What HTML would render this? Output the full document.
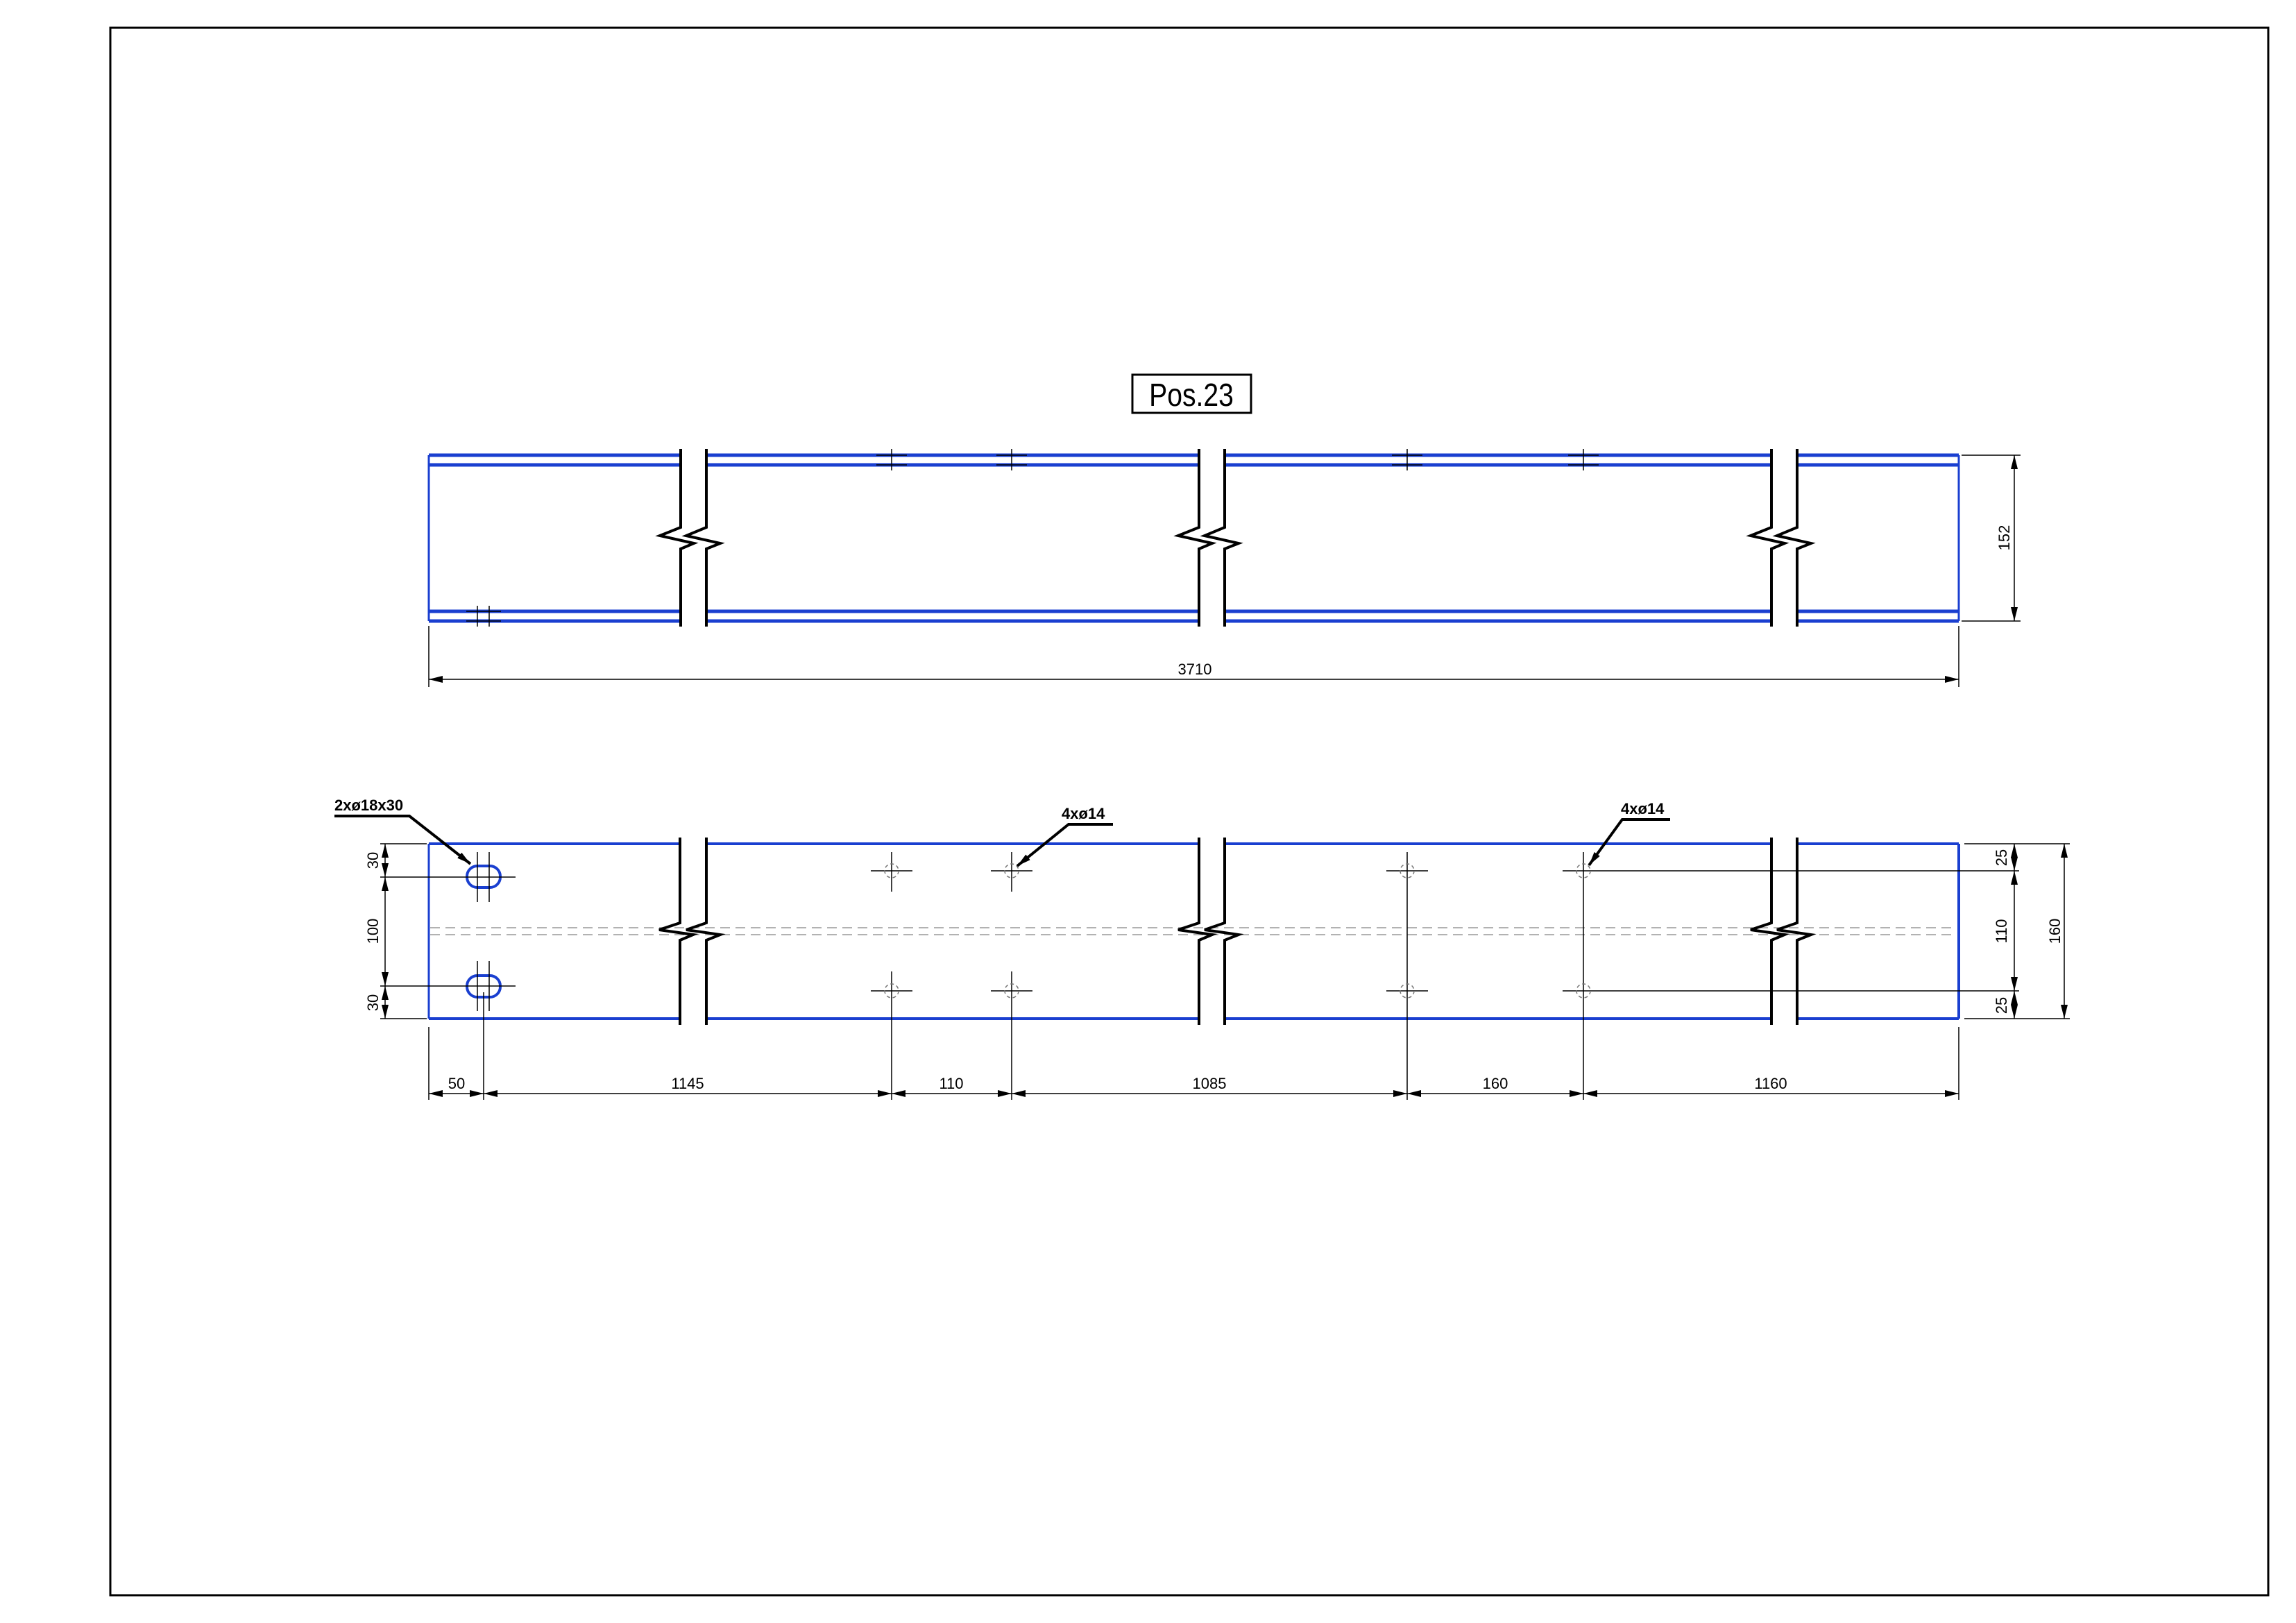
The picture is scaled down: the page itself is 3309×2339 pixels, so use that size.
<!DOCTYPE html>
<html><head><meta charset="utf-8"><style>
html,body{margin:0;padding:0;background:#fff;}
svg{display:block;}
text{font-family:"Liberation Sans",sans-serif;}
</style></head><body>
<svg width="3309" height="2339" viewBox="0 0 3309 2339" xmlns="http://www.w3.org/2000/svg">
<defs>
<marker id="a" markerWidth="20" markerHeight="10" refX="20" refY="5" orient="auto-start-reverse" markerUnits="userSpaceOnUse"><path d="M0,0 L20,5 L0,10 Z" fill="#000"/></marker>
</defs>
<rect x="159" y="40" width="3110" height="2259" fill="none" stroke="#000" stroke-width="3"/>

<rect x="1632" y="540" width="171" height="55" fill="none" stroke="#000" stroke-width="3"/>
<text x="1717" y="585" font-size="46" text-anchor="middle" transform="translate(1717 0) scale(0.85 1) translate(-1717 0)">Pos.23</text>

<g stroke="#1a3fd0" stroke-width="5" fill="none">
<line x1="618" y1="656" x2="981" y2="656"/><line x1="618" y1="670" x2="981" y2="670"/>
<line x1="618" y1="881" x2="981" y2="881"/><line x1="618" y1="895" x2="981" y2="895"/>
<line x1="1018" y1="656" x2="1728" y2="656"/><line x1="1018" y1="670" x2="1728" y2="670"/>
<line x1="1018" y1="881" x2="1728" y2="881"/><line x1="1018" y1="895" x2="1728" y2="895"/>
<line x1="1765" y1="656" x2="2553" y2="656"/><line x1="1765" y1="670" x2="2553" y2="670"/>
<line x1="1765" y1="881" x2="2553" y2="881"/><line x1="1765" y1="895" x2="2553" y2="895"/>
<line x1="2590" y1="656" x2="2823" y2="656"/><line x1="2590" y1="670" x2="2823" y2="670"/>
<line x1="2590" y1="881" x2="2823" y2="881"/><line x1="2590" y1="895" x2="2823" y2="895"/>
</g>
<g stroke="#1a3fd0" stroke-width="3" fill="none">
<line x1="618" y1="656" x2="618" y2="895"/><line x1="2823" y1="656" x2="2823" y2="895"/>
</g>
<g stroke="#000" stroke-width="4" fill="none">
<path d="M981 647 V760 L951 772 L1000 783 L981 791 V903"/>
<path d="M1018 647 V760 L989 772 L1038 783 L1018 791 V903"/>
<path d="M1728 647 V760 L1698 772 L1747 783 L1728 791 V903"/>
<path d="M1765 647 V760 L1736 772 L1785 783 L1765 791 V903"/>
<path d="M2553 647 V760 L2523 772 L2572 783 L2553 791 V903"/>
<path d="M2590 647 V760 L2561 772 L2610 783 L2590 791 V903"/>
</g>
<g stroke="#000" stroke-width="1.5">
<line x1="1285" y1="647" x2="1285" y2="678"/><line x1="1263" y1="656" x2="1307" y2="656"/><line x1="1263" y1="670" x2="1307" y2="670"/>
<line x1="1458" y1="647" x2="1458" y2="678"/><line x1="1436" y1="656" x2="1480" y2="656"/><line x1="1436" y1="670" x2="1480" y2="670"/>
<line x1="2028" y1="647" x2="2028" y2="678"/><line x1="2006" y1="656" x2="2050" y2="656"/><line x1="2006" y1="670" x2="2050" y2="670"/>
<line x1="2282" y1="647" x2="2282" y2="678"/><line x1="2260" y1="656" x2="2304" y2="656"/><line x1="2260" y1="670" x2="2304" y2="670"/>
<line x1="688" y1="873" x2="688" y2="903"/><line x1="705" y1="873" x2="705" y2="903"/><line x1="672" y1="881" x2="722" y2="881"/><line x1="672" y1="895" x2="722" y2="895"/>
</g>
<g stroke="#000" stroke-width="1.5" fill="none">
<line x1="2827" y1="656" x2="2912" y2="656"/><line x1="2827" y1="895" x2="2912" y2="895"/>
<line x1="2903" y1="656" x2="2903" y2="895" marker-start="url(#a)" marker-end="url(#a)"/>
<line x1="618" y1="902" x2="618" y2="990"/><line x1="2823" y1="902" x2="2823" y2="990"/>
<line x1="618" y1="979" x2="2823" y2="979" marker-start="url(#a)" marker-end="url(#a)"/>
</g>
<text x="0" y="0" font-size="22" text-anchor="middle" transform="translate(2896 775) rotate(-90)">152</text>
<text x="1722" y="972" font-size="22" text-anchor="middle">3710</text>

<g stroke="#999" stroke-width="1.5" stroke-dasharray="14 8">
<line x1="620" y1="1337" x2="2820" y2="1337"/><line x1="620" y1="1347" x2="2820" y2="1347"/>
</g>
<g stroke="#1a3fd0" stroke-width="4" fill="none">
<line x1="618" y1="1216" x2="980" y2="1216"/><line x1="618" y1="1468" x2="980" y2="1468"/>
<line x1="1018" y1="1216" x2="1728" y2="1216"/><line x1="1018" y1="1468" x2="1728" y2="1468"/>
<line x1="1765" y1="1216" x2="2553" y2="1216"/><line x1="1765" y1="1468" x2="2553" y2="1468"/>
<line x1="2590" y1="1216" x2="2823" y2="1216"/><line x1="2590" y1="1468" x2="2823" y2="1468"/>
<line x1="618" y1="1216" x2="618" y2="1468" stroke-width="3"/><line x1="2823" y1="1216" x2="2823" y2="1468"/>
<rect x="673" y="1248" width="48" height="31" rx="15" ry="15"/>
<rect x="673" y="1406" width="48" height="31" rx="15" ry="15"/>
</g>
<g stroke="#000" stroke-width="4" fill="none">
<path d="M980 1207 V1330 L950 1340 L999 1347 L980 1355 V1477"/>
<path d="M1018 1207 V1330 L989 1340 L1038 1347 L1018 1355 V1477"/>
<path d="M1728 1207 V1330 L1698 1340 L1747 1347 L1728 1355 V1477"/>
<path d="M1765 1207 V1330 L1736 1340 L1785 1347 L1765 1355 V1477"/>
<path d="M2553 1207 V1330 L2523 1340 L2572 1347 L2553 1355 V1477"/>
<path d="M2590 1207 V1330 L2561 1340 L2610 1347 L2590 1355 V1477"/>
</g>
<g stroke="#000" stroke-width="1.5" fill="none">
<line x1="1285" y1="1228" x2="1285" y2="1285"/><line x1="1285" y1="1400" x2="1285" y2="1585"/>
<line x1="1458" y1="1228" x2="1458" y2="1285"/><line x1="1458" y1="1400" x2="1458" y2="1585"/>
<line x1="2028" y1="1228" x2="2028" y2="1585"/><line x1="2282" y1="1228" x2="2282" y2="1585"/>
<line x1="1255" y1="1255" x2="1315" y2="1255"/><line x1="1428" y1="1255" x2="1488" y2="1255"/>
<line x1="1255" y1="1428" x2="1315" y2="1428"/><line x1="1428" y1="1428" x2="1488" y2="1428"/>
<line x1="1998" y1="1255" x2="2058" y2="1255"/><line x1="1998" y1="1428" x2="2058" y2="1428"/>
<line x1="2252" y1="1255" x2="2910" y2="1255"/><line x1="2252" y1="1428" x2="2910" y2="1428"/>
</g>
<g stroke="#777" stroke-width="1.5" fill="none" stroke-dasharray="5 4">
<circle cx="1285" cy="1255" r="10"/><circle cx="1458" cy="1255" r="10"/><circle cx="1285" cy="1428" r="10"/><circle cx="1458" cy="1428" r="10"/>
<circle cx="2028" cy="1255" r="10"/><circle cx="2282" cy="1255" r="10"/><circle cx="2028" cy="1428" r="10"/><circle cx="2282" cy="1428" r="10"/>
</g>
<g stroke="#000" stroke-width="1.5">
<line x1="688" y1="1228" x2="688" y2="1300"/><line x1="705" y1="1228" x2="705" y2="1300"/>
<line x1="688" y1="1385" x2="688" y2="1457"/><line x1="705" y1="1385" x2="705" y2="1457"/>
<line x1="697" y1="1430" x2="697" y2="1585"/>
<line x1="548" y1="1264" x2="743" y2="1264"/><line x1="548" y1="1421" x2="743" y2="1421"/>
<line x1="548" y1="1216" x2="615" y2="1216"/><line x1="548" y1="1468" x2="615" y2="1468"/>
<line x1="618" y1="1480" x2="618" y2="1585"/><line x1="2823" y1="1480" x2="2823" y2="1585"/>
<line x1="2831" y1="1216" x2="2983" y2="1216"/><line x1="2831" y1="1468" x2="2983" y2="1468"/>
</g>
<g stroke="#000" stroke-width="1.5" fill="none">
<line x1="555" y1="1216" x2="555" y2="1264" marker-start="url(#a)" marker-end="url(#a)"/>
<line x1="555" y1="1264" x2="555" y2="1421" marker-start="url(#a)" marker-end="url(#a)"/>
<line x1="555" y1="1421" x2="555" y2="1468" marker-start="url(#a)" marker-end="url(#a)"/>
<line x1="2903" y1="1216" x2="2903" y2="1255" marker-start="url(#a)" marker-end="url(#a)"/>
<line x1="2903" y1="1255" x2="2903" y2="1428" marker-start="url(#a)" marker-end="url(#a)"/>
<line x1="2903" y1="1428" x2="2903" y2="1468" marker-start="url(#a)" marker-end="url(#a)"/>
<line x1="2975" y1="1216" x2="2975" y2="1468" marker-start="url(#a)" marker-end="url(#a)"/>
<line x1="618" y1="1576" x2="697" y2="1576" marker-start="url(#a)" marker-end="url(#a)"/>
<line x1="697" y1="1576" x2="1285" y2="1576" marker-start="url(#a)" marker-end="url(#a)"/>
<line x1="1285" y1="1576" x2="1458" y2="1576" marker-start="url(#a)" marker-end="url(#a)"/>
<line x1="1458" y1="1576" x2="2028" y2="1576" marker-start="url(#a)" marker-end="url(#a)"/>
<line x1="2028" y1="1576" x2="2282" y2="1576" marker-start="url(#a)" marker-end="url(#a)"/>
<line x1="2282" y1="1576" x2="2823" y2="1576" marker-start="url(#a)" marker-end="url(#a)"/>
</g>
<g font-size="22" text-anchor="middle">
<text x="658" y="1569">50</text><text x="991" y="1569">1145</text><text x="1371" y="1569">110</text>
<text x="1743" y="1569">1085</text><text x="2155" y="1569">160</text><text x="2552" y="1569">1160</text>
<text transform="translate(545 1240) rotate(-90)">30</text>
<text transform="translate(545 1342) rotate(-90)">100</text>
<text transform="translate(545 1445) rotate(-90)">30</text>
<text transform="translate(2892 1236) rotate(-90)">25</text>
<text transform="translate(2892 1342) rotate(-90)">110</text>
<text transform="translate(2892 1449) rotate(-90)">25</text>
<text transform="translate(2969 1342) rotate(-90)">160</text>
</g>
<g stroke="#000" stroke-width="4" fill="none">
<polyline points="482,1176 590,1176 678,1245" marker-end="url(#a)"/>
<polyline points="1604,1188 1540,1188 1466,1248" marker-end="url(#a)"/>
<polyline points="2407,1181 2338,1181 2290,1247" marker-end="url(#a)"/>
</g>
<g font-size="22" font-weight="bold">
<text x="482" y="1168">2xø18x30</text>
<text x="1530" y="1180">4xø14</text>
<text x="2336" y="1173">4xø14</text>
</g>
</svg>
</body></html>
